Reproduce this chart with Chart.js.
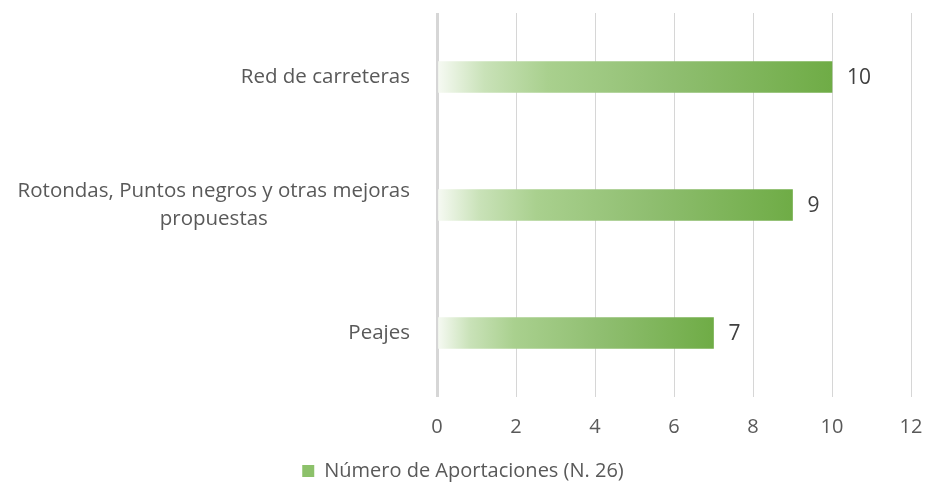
<!DOCTYPE html>
<html>
<head>
  <script src="https://cdn.jsdelivr.net/npm/chart.js"></script>
  <title>Número de Aportaciones</title>
  <style>
    body { margin: 0; background: #fff; }
    #wrap { width: 926px; height: 491px; }
  </style>
</head>
<body>
  <div id="wrap"><canvas id="chart"></canvas></div>

  <script>
    // Data
    let categories = [
      'Red de carreteras',
      ['Rotondas, Puntos negros y otras mejoras', 'propuestas'],
      'Peajes'
    ];
    let values = [10, 9, 7];
    let seriesName = 'Número de Aportaciones (N. 26)';
    let xTicks = [0, 2, 4, 6, 8, 10, 12];

    let FONT = '"Open Sans", sans-serif';

    // horizontal white-to-green fill running along each bar
    function barGradient(context) {
      let chart = context.chart;
      let x = chart.scales.x;
      if (!x || !chart.chartArea) return '#70ad47';
      let x0 = x.getPixelForValue(0);
      let x1 = x.getPixelForValue(context.raw);
      let g = chart.ctx.createLinearGradient(x0, 0, x1, 0);
      g.addColorStop(0, '#f7faf4');
      g.addColorStop(0.12, '#c9e2b8');
      g.addColorStop(0.28, '#a9d08e');
      g.addColorStop(0.6, '#8fbe70');
      g.addColorStop(1, '#6fac46');
      return g;
    }

    // category labels: block right-aligned, wrapped lines centred
    let categoryLabels = {
      id: 'categoryLabels',
      afterDraw(chart) {
        let ctx = chart.ctx;
        let y = chart.scales.y;
        ctx.save();
        ctx.font = '20.5px ' + FONT;
        ctx.fillStyle = '#595959';
        ctx.textBaseline = 'middle';
        ctx.textAlign = 'center';
        let right = chart.chartArea.left - 27;
        categories.forEach((label, i) => {
          let lines = Array.isArray(label) ? label : [label];
          let w = Math.max(...lines.map(l => ctx.measureText(l).width));
          let cx = right - w / 2;
          let cy = y.getPixelForTick(i);
          let lh = 28;
          lines.forEach((l, j) => {
            ctx.fillText(l, cx, cy + (j - (lines.length - 1) / 2) * lh);
          });
        });
        ctx.restore();
      }
    };

    // value at the end of each bar
    let valueLabels = {
      id: 'valueLabels',
      afterDatasetsDraw(chart) {
        let ctx = chart.ctx;
        let meta = chart.getDatasetMeta(0);
        ctx.save();
        ctx.font = '21px ' + FONT;
        ctx.fillStyle = '#404040';
        ctx.textBaseline = 'middle';
        ctx.textAlign = 'left';
        meta.data.forEach((bar, i) => {
          ctx.fillText(String(values[i]), bar.x + 15, bar.y + 1);
        });
        ctx.restore();
      }
    };

    let ctx = document.getElementById('chart').getContext('2d');
    new Chart(ctx, {
      type: 'bar',
      data: {
        labels: categories,
        datasets: [{
          label: seriesName,
          data: values,
          backgroundColor: barGradient,
          barThickness: 31
        }]
      },
      options: {
        indexAxis: 'y',
        responsive: true,
        maintainAspectRatio: false,
        animation: false,
        layout: { padding: { top: 13, right: 0, bottom: 0, left: 0 } },
        scales: {
          x: {
            min: 0,
            max: 12,
            afterBuildTicks: scale => { scale.ticks = xTicks.map(v => ({ value: v })); },
            afterFit: scale => {
              scale.paddingLeft = 0;
              scale.paddingRight = 15;
              scale.height = 53;
            },
            grid: {
              color: '#d6d6d6',
              lineWidth: c => (c.tick && c.tick.value === 0 ? 3 : 1),
              drawTicks: false
            },
            border: { display: false },
            ticks: {
              color: '#595959',
              font: { family: FONT, size: 20 },
              padding: 18
            }
          },
          y: {
            grid: { display: false },
            border: { display: false },
            ticks: { display: false },
            afterFit: scale => { scale.width = 437; }
          }
        },
        plugins: {
          legend: {
            position: 'bottom',
            labels: {
              boxWidth: 12,
              boxHeight: 12,
              padding: 11,
              color: '#595959',
              font: { family: FONT, size: 20 },
              generateLabels: () => [{
                text: seriesName,
                fillStyle: '#8cc16a',
                strokeStyle: '#8cc16a',
                fontColor: '#595959',
                lineWidth: 0,
                datasetIndex: 0
              }]
            }
          },
          tooltip: { enabled: false }
        }
      },
      plugins: [categoryLabels, valueLabels]
    });
  </script>
</body>
</html>
